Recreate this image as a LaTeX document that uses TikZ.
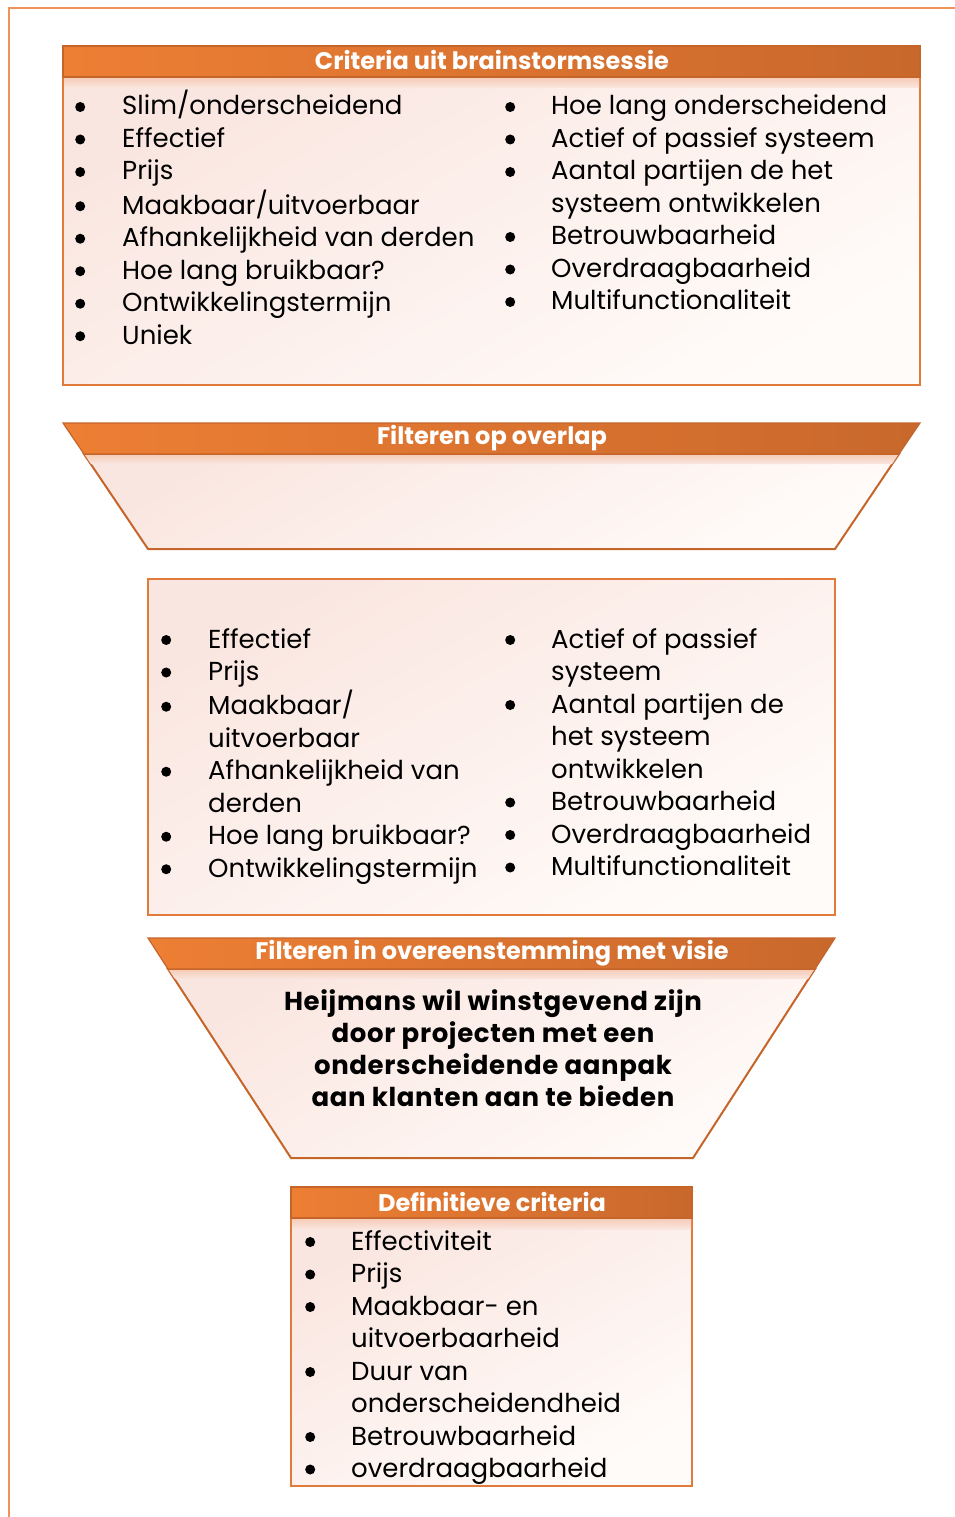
\documentclass[tikz,border=0pt]{standalone}
\usepackage{fontspec}
\setmainfont{Poppins}
\definecolor{hdrL}{RGB}{237,127,52}
\definecolor{hdrR}{RGB}{201,104,44}
\definecolor{edgeC}{RGB}{226,122,60}
\definecolor{darkedge}{RGB}{197,101,42}
\definecolor{frameC}{RGB}{240,145,90}
\definecolor{bodyA}{RGB}{250,230,224}
\definecolor{bodyB}{RGB}{255,251,249}
\definecolor{glowC}{RGB}{246,205,185}
\newcommand\mybul{\tikz[baseline={(0,0)}]\fill (5pt,8pt) circle (5pt);}
\tikzset{
  hdr/.style={left color=hdrL, right color=hdrR, draw=darkedge, line width=1.2pt},
  bodybox/.style={top color=bodyA, bottom color=bodyB, shading angle=30, draw=edgeC, line width=2pt},
  funbody/.style={top color=bodyA, bottom color=bodyB, shading angle=30, draw=darkedge, line width=2pt},
  glow/.style={top color=glowC, bottom color=bodyA},
  ttl/.style={text=white, font=\fontsize{24}{28}\selectfont\bfseries, inner sep=0pt},
  lst/.style={anchor=base west, inner sep=0pt, font=\fontsize{26}{32.5}\selectfont},
}
\begin{document}
\begin{tikzpicture}[x=1pt,y=-1pt]
\useasboundingbox (0,0) rectangle (955,1517);
% page frame
\draw[frameC, line width=1.5pt] (9,1517) -- (9,8) -- (955,8);

% ---------- Box 1 ----------
\path[bodybox] (63,77) rectangle (920,385);
\path[glow] (64,78) rectangle (919,88);
\path[hdr] (63,46) rectangle (920,77);
\node[ttl] (t1) at (492,60) {Criteria uit brainstormsessie};
\node[lst] (l1) at (75,115) {\begin{tabular}[t]{@{}p{47pt}@{}l@{}}
\mybul & Slim/onderscheidend\\
\mybul & Effectief\\
\mybul & Prijs\\
\mybul & Maakbaar/uitvoerbaar\\
\mybul & Afhankelijkheid van derden\\
\mybul & Hoe lang bruikbaar?\\
\mybul & Ontwikkelingstermijn\\
\mybul & Uniek
\end{tabular}};
\node[lst] (r1) at (505,115) {\begin{tabular}[t]{@{}p{46pt}@{}l@{}}
\mybul & Hoe lang onderscheidend\\
\mybul & Actief of passief systeem\\
\mybul & Aantal partijen de het\\
 & systeem ontwikkelen\\
\mybul & Betrouwbaarheid\\
\mybul & Overdraagbaarheid\\
\mybul & Multifunctionaliteit
\end{tabular}};

% ---------- Funnel 1 ----------
\path[funbody] (84,454) -- (899,454) -- (835,549) -- (148,549) -- cycle;
\path[glow] (85,455) -- (898,455) -- (892,464) -- (91,464) -- cycle;
\path[hdr] (63,423) -- (920,423) -- (899,454) -- (84,454) -- cycle;
\node[ttl] (t2) at (492,438) {Filteren op overlap};

% ---------- Box 2 ----------
\path[bodybox] (148,579) rectangle (835,915);
\node[lst] (l2) at (161,648) {\begin{tabular}[t]{@{}p{47pt}@{}l@{}}
\mybul & Effectief\\
\mybul & Prijs\\
\mybul & Maakbaar/\\
 & uitvoerbaar\\
\mybul & Afhankelijkheid van\\
 & derden\\
\mybul & Hoe lang bruikbaar?\\
\mybul & Ontwikkelingstermijn
\end{tabular}};
\node[lst] (r2) at (505,648) {\begin{tabular}[t]{@{}p{46pt}@{}l@{}}
\mybul & Actief of passief\\
 & systeem\\
\mybul & Aantal partijen de\\
 & het systeem\\
 & ontwikkelen\\
\mybul & Betrouwbaarheid\\
\mybul & Overdraagbaarheid\\
\mybul & Multifunctionaliteit
\end{tabular}};

% ---------- Funnel 2 ----------
\path[funbody] (168,969) -- (815,969) -- (693,1158) -- (291,1158) -- cycle;
\path[glow] (169,970) -- (814,970) -- (808,979) -- (175,979) -- cycle;
\path[hdr] (148,938) -- (835,938) -- (815,969) -- (168,969) -- cycle;
\node[ttl] (t3) at (492,953) {Filteren in overeenstemming met visie};
\node[inner sep=0pt, align=center, font=\fontsize{26}{32}\selectfont\bfseries\addfontfeatures{LetterSpace=2.5}] (v) at (493,1048)
  {Heijmans wil winstgevend zijn\\ door projecten met een\\ onderscheidende aanpak\\ aan klanten aan te bieden};

% ---------- Box 3 ----------
\path[bodybox] (291,1218) rectangle (692,1486);
\path[glow] (292,1219) rectangle (691,1229);
\path[hdr] (291,1187) rectangle (692,1218);
\node[ttl] (t4) at (492,1202) {Definitieve criteria};
\node[lst] (l3) at (305,1250) {\begin{tabular}[t]{@{}p{46pt}@{}l@{}}
\mybul & Effectiviteit\\
\mybul & Prijs\\
\mybul & Maakbaar- en\\
 & uitvoerbaarheid\\
\mybul & Duur van\\
 & onderscheidendheid\\
\mybul & Betrouwbaarheid\\
\mybul & overdraagbaarheid
\end{tabular}};
\end{tikzpicture}
\end{document}
